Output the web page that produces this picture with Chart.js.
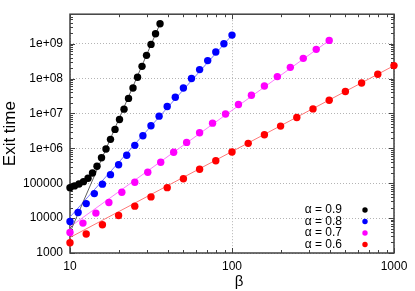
<!DOCTYPE html>
<html>
<head>
<meta charset="UTF-8">
<title>Exit time vs beta</title>
<script src="https://cdn.jsdelivr.net/npm/chart.js@4.4.0/dist/chart.umd.min.js"></script>
<style>
  body { margin: 0; background: #fff; }
</style>
</head>
<body>
<canvas id="myChart" width="415" height="291"></canvas>
<script>
// values, one pair of arrays per alpha
var beta09 = [10, 10.66, 11.36, 12.11, 12.92, 13.77, 14.68, 15.65, 16.68, 17.78, 18.96,
              20.21, 21.55, 22.97, 24.49, 26.11, 27.83, 29.67, 31.63, 33.73, 35.96];
var exit09 = [74800, 83700, 95500, 111000, 139000, 197000, 306000, 539000, 955000, 1.81e6, 3.49e6,
              6.74e6, 1.33e7, 2.70e7, 5.39e7, 1.09e8, 2.24e8, 4.63e8, 9.55e8, 1.93e9, 3.73e9];

var beta08 = [10, 11.22, 12.59, 14.13, 15.85, 17.78, 19.95, 22.39, 25.12, 28.18, 31.62,
              35.48, 39.81, 44.67, 50.12, 56.23, 63.10, 70.79, 79.43, 89.13, 100];
var exit08 = [8000, 14500, 26100, 50400, 94200, 176000, 340000, 631000, 1.22e6, 2.29e6, 4.42e6,
              8.38e6, 1.58e7, 2.92e7, 5.39e7, 1.0e8, 1.81e8, 3.27e8, 5.75e8, 1.0e9, 1.76e9];

var beta07 = [10, 12.02, 14.45, 17.38, 20.89, 25.12, 30.20, 36.31, 43.65, 52.48, 63.10,
              75.86, 91.20, 109.6, 131.8, 158.5, 190.5, 229.1, 275.4, 331.1, 398.1];
var exit07 = [3880, 7200, 13900, 27900, 55300, 107000, 206000, 401000, 769000, 1.48e6, 2.79e6,
              5.28e6, 9.68e6, 1.81e7, 3.33e7, 6.15e7, 1.14e8, 2.10e8, 3.80e8, 6.87e8, 1.24e9];

var beta06 = [10, 12.59, 15.85, 19.95, 25.12, 31.62, 39.81, 50.12, 63.10, 79.43, 100,
              125.9, 158.5, 199.5, 251.2, 316.2, 398.1, 501.2, 631.0, 794.3, 1000];
var exit06 = [1967, 3490, 6440, 11870, 22000, 40600, 74800, 135000, 251000, 443000, 784000,
              1.39e6, 2.45e6, 4.34e6, 7.69e6, 1.35e7, 2.40e7, 4.25e7, 7.48e7, 1.33e8, 2.35e8];

// power-law fit lines, ends only
var fitBeta09 = [10, 35.96];  var fitExit09 = [3900, 3.73e9];
var fitBeta08 = [10, 100];    var fitExit08 = [10700, 1.76e9];
var fitBeta07 = [10, 398.1];  var fitExit07 = [5640, 1.24e9];
var fitBeta06 = [10, 1000];   var fitExit06 = [2790, 2.35e8];

var alphas = ['0.9', '0.8', '0.7', '0.6'];
var dotColors = ['#000000', '#0000ff', '#ff00ff', '#ff0000'];
var fitColors = ['#606060', '#7878ff', '#ff78ff', '#ff7878'];

var yTicks = [1000, 10000, 100000, 1e6, 1e7, 1e8, 1e9];
var yLabels = ['1000', '10000', '100000', '1e+06', '1e+07', '1e+08', '1e+09'];
var xTicks = [10, 100, 1000];
var xLabels = ['10', '100', '1000'];

function pts(xs, ys) {
    return xs.map(function(x, i) { return {x: x, y: ys[i]}; });
}

// 1..9 x 10^n inside the axis range
function logTicks(scale) {
    var out = [];
    var e = Math.floor(Math.log10(scale.min));
    for (; Math.pow(10, e) <= scale.max; e++) {
        for (var m = 1; m < 10; m++) {
            var v = Math.round(m * Math.pow(10, e));
            if (v >= scale.min && v <= scale.max) out.push({value: v, major: m === 1});
        }
    }
    scale.ticks = out;
}

var series = [[beta09, exit09], [beta08, exit08], [beta07, exit07], [beta06, exit06]];
var fits = [[fitBeta09, fitExit09], [fitBeta08, fitExit08], [fitBeta07, fitExit07], [fitBeta06, fitExit06]];

var datasets = [];
series.forEach(function(s, i) {
    datasets.push({
        label: 'α = ' + alphas[i],
        data: pts(s[0], s[1]),
        showLine: false,
        pointRadius: 3.7,
        pointBorderWidth: 0,
        pointBackgroundColor: dotColors[i],
        clip: false
    });
});
fits.forEach(function(f, i) {
    datasets.push({
        label: 'fit ' + alphas[i],
        data: pts(f[0], f[1]),
        showLine: true,
        borderColor: fitColors[i],
        borderWidth: 1,
        pointRadius: 0
    });
});

var framePlugin = {
    id: 'frame',
    beforeDatasetsDraw: function(chart) {
        var c = chart.ctx, a = chart.chartArea;
        var xs = chart.scales.x, ys = chart.scales.y;
        c.save();
        c.strokeStyle = '#404040';
        c.lineWidth = 1;
        c.beginPath();
        xs.ticks.forEach(function(t) {
            var px = Math.round(xs.getPixelForValue(t.value)) + 0.5;
            var len = t.major ? 5 : 3;
            c.moveTo(px, a.bottom); c.lineTo(px, a.bottom - len);
            c.moveTo(px, a.top); c.lineTo(px, a.top + len);
        });
        ys.ticks.forEach(function(t) {
            var py = Math.round(ys.getPixelForValue(t.value)) + 0.5;
            var len = t.major ? 5 : 3;
            c.moveTo(a.left, py); c.lineTo(a.left + len, py);
            c.moveTo(a.right, py); c.lineTo(a.right - len, py);
        });
        c.stroke();
        c.lineWidth = 1.5;
        c.strokeRect(a.left, a.top, a.right - a.left, a.bottom - a.top);
        c.restore();
    },
    afterDraw: function(chart) {
        var c = chart.ctx, a = chart.chartArea;
        c.save();
        c.fillStyle = '#000';
        c.font = '15px "Liberation Sans", Arial, sans-serif';
        c.textAlign = 'center';
        c.textBaseline = 'middle';
        c.fillText('β', 239, a.bottom + 29);
        // legend, lower right, text then dot
        c.font = '12px "Liberation Sans", Arial, sans-serif';
        c.textAlign = 'right';
        for (var i = 0; i < alphas.length; i++) {
            var y = a.bottom - 43 + i * 11.5;
            c.fillStyle = '#000';
            c.fillText('α = ' + alphas[i], a.right - 52, y);
            c.fillStyle = dotColors[i];
            c.beginPath();
            c.arc(a.right - 29, y, 2.7, 0, Math.PI * 2);
            c.fill();
        }
        c.restore();
    }
};

Chart.defaults.font.family = '"Liberation Sans", Arial, sans-serif';
Chart.defaults.color = '#000';

var ctx = document.getElementById('myChart').getContext('2d');
var myChart = new Chart(ctx, {
    type: 'scatter',
    data: { datasets: datasets },
    options: {
        responsive: false,
        animation: false,
        layout: { padding: { top: 14, right: 21, left: 0, bottom: 0 } },
        plugins: {
            legend: { display: false },
            tooltip: { enabled: false }
        },
        scales: {
            x: {
                type: 'logarithmic',
                min: 10,
                max: 1000,
                afterBuildTicks: logTicks,
                afterFit: function(s) { s.height = 38; },
                ticks: {
                    autoSkip: false,
                    maxRotation: 0,
                    padding: 6,
                    font: { size: 12 },
                    callback: function(v) {
                        var k = xTicks.indexOf(v);
                        return k >= 0 ? xLabels[k] : '';
                    }
                },
                grid: {
                    drawTicks: false,
                    color: function(c) { return c.tick && c.tick.major ? '#b4b4b4' : 'rgba(0,0,0,0)'; }
                },
                border: { display: false, dash: [1, 2] }
            },
            y: {
                type: 'logarithmic',
                min: 1000,
                max: 7e9,
                afterBuildTicks: logTicks,
                afterFit: function(s) { s.width = 70; },
                ticks: {
                    autoSkip: false,
                    padding: 7,
                    font: { size: 12 },
                    callback: function(v) {
                        var k = yTicks.indexOf(v);
                        return k >= 0 ? yLabels[k] : '';
                    }
                },
                title: {
                    display: true,
                    text: 'Exit time',
                    font: { size: 17, lineHeight: 1 },
                    padding: { top: 2, bottom: 0 }
                },
                grid: {
                    drawTicks: false,
                    color: function(c) { return c.tick && c.tick.major ? '#b4b4b4' : 'rgba(0,0,0,0)'; }
                },
                border: { display: false, dash: [1, 2] }
            }
        }
    },
    plugins: [framePlugin]
});
</script>
</body>
</html>
